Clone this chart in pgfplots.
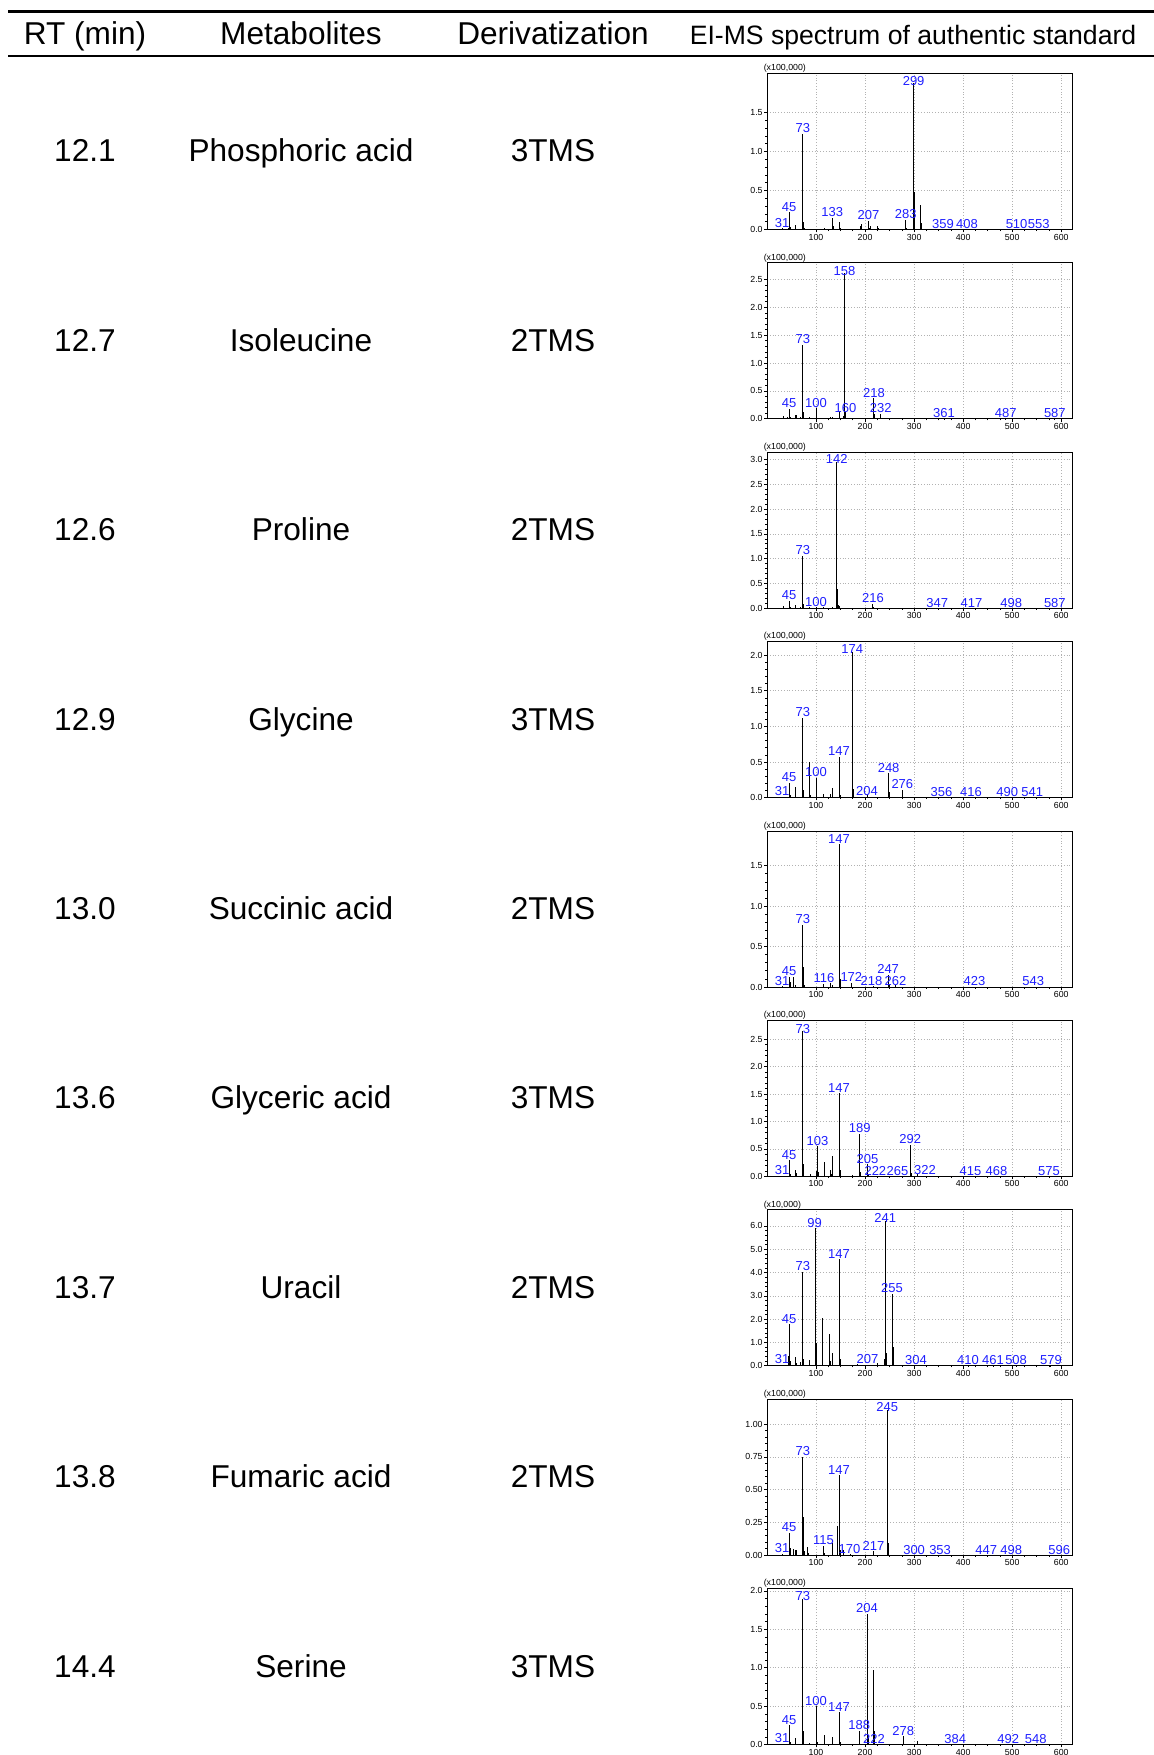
\documentclass[border=0pt]{standalone}
\usepackage{fontspec}
\setmainfont{Liberation Sans}
\usepackage{pgfplots}
\pgfplotsset{compat=1.18}
\definecolor{specblue}{RGB}{30,30,255}
\newcommand{\lbl}{\fontsize{6.5}{7}\selectfont}
\newcommand{\hdr}{\fontsize{15.8}{18}\selectfont}
\newcommand{\sml}{\fontsize{4.4}{5}\selectfont}
\pgfplotsset{
 spec/.style={
  scale only axis, width=152.5pt, height=78pt, anchor=north west,
  xmin=0, xmax=622, ymin=0,
  xtick={100,200,300,400,500,600}, minor x tick num=3, minor y tick num=4,
  xtick pos=bottom, ytick pos=left, tick align=outside,
  major tick length=1.4pt, minor tick length=0.8pt,
  every tick/.style={black, line width=0.35pt},
  grid=major, major grid style={densely dotted, black!30, line width=0.35pt},
  axis line style={line width=0.5pt},
  ticklabel style={font=\sml, inner sep=0.6pt},
  /pgf/number format/assume math mode=true,
  yticklabel style={/pgf/number format/fixed, /pgf/number format/fixed zerofill, /pgf/number format/precision=1},
  scaled ticks=false, clip=false,
  nodes near coords style={anchor=south, inner sep=0.3pt, text=specblue, font=\lbl},
 },
 bars/.style={ycomb, black, line width=0.5pt, mark=none},
 labs/.style={draw=none, mark=none, nodes near coords, point meta=explicit symbolic},
}
\begin{document}
\begin{tikzpicture}
\path[use as bounding box] (0,0) rectangle (577pt,-877.5pt);
\draw[line width=1.3pt] (4pt,-5.7pt) -- (577pt,-5.7pt);
\draw[line width=1.3pt] (4pt,-28pt) -- (577pt,-28pt);
\node[font=\hdr, anchor=base] at (42.5pt,-22.5pt) {RT (min)};
\node[font=\hdr, anchor=base] at (150.5pt,-22.5pt) {Metabolites};
\node[font=\hdr, anchor=base] at (276.5pt,-22.5pt) {Derivatization};
\node[font=\fontsize{13.3}{15}\selectfont, anchor=base] at (456.5pt,-22.5pt) {EI-MS spectrum of authentic standard};
% row texts
\foreach \yy/\rt/\met/\der in {75.25/12.1/Phosphoric acid/3TMS, 169.95/12.7/Isoleucine/2TMS, 264.65/12.6/Proline/2TMS, 359.35/12.9/Glycine/3TMS, 454.05/13.0/Succinic acid/2TMS, 548.75/13.6/Glyceric acid/3TMS, 643.45/13.7/Uracil/2TMS, 738.15/13.8/Fumaric acid/2TMS, 832.85/14.4/Serine/3TMS}{
 \node[font=\hdr, anchor=base] at (42.5pt,-\yy pt-5.65pt) {\rt};
 \node[font=\hdr, anchor=base] at (150.5pt,-\yy pt-5.65pt) {\met};
 \node[font=\hdr, anchor=base] at (276.5pt,-\yy pt-5.65pt) {\der};
}
% 1 Phosphoric acid
\begin{axis}[spec, at={(383.5pt,-36.8pt)}, ymax=2.0, ytick={0,0.5,1.0,1.5}]
\addplot[bars] coordinates {(31,0.02) (43,0.02) (45,0.22) (47,0.03) (59,0.06) (73,1.23) (74,0.10) (75,0.09) (77,0.02) (89,0.01) (103,0.01) (117,0.02) (119,0.01) (133,0.15) (134,0.03) (135,0.04) (147,0.10) (149,0.02) (163,0.01) (191,0.05) (193,0.07) (207,0.11) (209,0.02) (211,0.04) (225,0.05) (227,0.02) (241,0.01) (255,0.01) (269,0.01) (283,0.125) (284,0.02) (299,1.875) (300,0.48) (301,0.16) (314,0.32) (315,0.08) (316,0.03) (329,0.01) (359,0.005) (408,0.004) (510,0.003) (553,0.003)};
\addplot[labs] table[meta=l, row sep=\\] {x y l\\ 31 0.01 31\\ 45 0.22 45\\ 73 1.23 73\\ 133 0.15 133\\ 207 0.11 207\\ 283 0.125 283\\ 299 1.83 299\\ 359 0 359\\ 408 0 408\\ 509 0 510\\ 554 0 553\\};
\node[font=\sml, anchor=south west, inner sep=0.2pt, xshift=-2pt] at (rel axis cs:0,1) {(x100,000)};
\end{axis}
% 2 Isoleucine
\begin{axis}[spec, at={(383.5pt,-131.4pt)}, ymax=2.8, ytick={0,0.5,1.0,1.5,2.0,2.5}]
\addplot[bars] coordinates {(33,0.05) (41,0.03) (45,0.175) (47,0.04) (59,0.07) (61,0.07) (69,0.04) (73,1.33) (74,0.12) (75,0.10) (86,0.03) (89,0.02) (100,0.19) (101,0.04) (115,0.02) (130,0.03) (133,0.03) (147,0.13) (157,0.05) (158,2.61) (159,0.37) (160,0.12) (176,0.02) (190,0.01) (218,0.37) (219,0.08) (220,0.03) (232,0.09) (233,0.02) (260,0.015) (361,0.003) (487,0.003) (587,0.003)};
\addplot[labs] table[meta=l, row sep=\\] {x y l\\ 45 0.175 45\\ 73 1.33 73\\ 100 0.19 100\\ 160 0.1 160\\ 158 2.56 158\\ 218 0.37 218\\ 232 0.09 232\\ 361 0 361\\ 487 0 487\\ 587 0 587\\};
\node[font=\sml, anchor=south west, inner sep=0.2pt, xshift=-2pt] at (rel axis cs:0,1) {(x100,000)};
\end{axis}
% 3 Proline
\begin{axis}[spec, at={(383.5pt,-226.1pt)}, ymax=3.15, ytick={0,0.5,1.0,1.5,2.0,2.5,3.0}]
\addplot[bars] coordinates {(33,0.04) (45,0.15) (47,0.03) (59,0.07) (69,0.03) (73,1.06) (74,0.09) (75,0.08) (86,0.02) (100,0.03) (115,0.02) (133,0.02) (142,2.95) (143,0.38) (144,0.20) (145,0.06) (147,0.05) (174,0.01) (216,0.09) (217,0.02) (244,0.01) (347,0.003) (417,0.003) (498,0.003) (587,0.003)};
\addplot[labs] table[meta=l, row sep=\\] {x y l\\ 45 0.15 45\\ 73 1.06 73\\ 100 0.02 100\\ 142 2.9 142\\ 216 0.09 216\\ 347 0 347\\ 417 0 417\\ 498 0 498\\ 587 0 587\\};
\node[font=\sml, anchor=south west, inner sep=0.2pt, xshift=-2pt] at (rel axis cs:0,1) {(x100,000)};
\end{axis}
% 4 Glycine
\begin{axis}[spec, at={(383.5pt,-320.8pt)}, ymax=2.19, ytick={0,0.5,1.0,1.5,2.0}]
\addplot[bars] coordinates {(31,0.01) (45,0.21) (47,0.03) (59,0.15) (73,1.12) (74,0.10) (75,0.08) (86,0.50) (88,0.03) (100,0.28) (101,0.03) (116,0.05) (130,0.05) (133,0.13) (134,0.03) (147,0.575) (148,0.08) (149,0.04) (174,2.04) (175,0.36) (176,0.12) (190,0.01) (204,0.04) (205,0.01) (248,0.34) (249,0.08) (250,0.04) (276,0.11) (277,0.03) (356,0.003) (416,0.003) (490,0.003) (541,0.003)};
\addplot[labs] table[meta=l, row sep=\\] {x y l\\ 31 0.01 31\\ 45 0.21 45\\ 73 1.12 73\\ 100 0.28 100\\ 147 0.575 147\\ 174 2.01 174\\ 204 0.02 204\\ 248 0.34 248\\ 276 0.11 276\\ 356 0 356\\ 416 0 416\\ 490 0 490\\ 541 0 541\\};
\node[font=\sml, anchor=south west, inner sep=0.2pt, xshift=-2pt] at (rel axis cs:0,1) {(x100,000)};
\end{axis}
% 5 Succinic acid
\begin{axis}[spec, at={(383.5pt,-415.5pt)}, ymax=1.93, ytick={0,0.5,1.0,1.5}]
\addplot[bars] coordinates {(31,0.01) (45,0.13) (47,0.06) (55,0.13) (59,0.03) (73,0.77) (74,0.07) (75,0.25) (77,0.02) (116,0.04) (129,0.05) (130,0.03) (133,0.02) (147,1.77) (148,0.26) (149,0.10) (172,0.05) (173,0.01) (218,0.01) (247,0.15) (248,0.04) (249,0.02) (262,0.02) (423,0.003) (543,0.003)};
\addplot[labs] table[meta=l, row sep=\\] {x y l\\ 31 0.01 31\\ 45 0.13 45\\ 73 0.77 73\\ 116 0.04 116\\ 147 1.76 147\\ 172 0.05 172\\ 213 0.01 218\\ 247 0.15 247\\ 262 0.01 262\\ 423 0 423\\ 543 0 543\\};
\node[font=\sml, anchor=south west, inner sep=0.2pt, xshift=-2pt] at (rel axis cs:0,1) {(x100,000)};
\end{axis}
% 6 Glyceric acid
\begin{axis}[spec, at={(383.5pt,-510.2pt)}, ymax=2.84, ytick={0,0.5,1.0,1.5,2.0,2.5}]
\addplot[bars] coordinates {(31,0.01) (45,0.29) (47,0.04) (59,0.12) (61,0.06) (73,2.64) (74,0.22) (75,0.21) (89,0.04) (101,0.10) (102,0.45) (103,0.55) (104,0.08) (117,0.26) (118,0.04) (129,0.12) (131,0.05) (133,0.38) (134,0.08) (147,1.51) (148,0.23) (149,0.12) (175,0.03) (189,0.78) (190,0.08) (205,0.22) (206,0.05) (222,0.01) (265,0.01) (292,0.58) (293,0.16) (294,0.06) (307,0.04) (322,0.01) (415,0.003) (468,0.003) (575,0.003)};
\addplot[labs] table[meta=l, row sep=\\] {x y l\\ 31 0.01 31\\ 45 0.29 45\\ 73 2.59 73\\ 103 0.55 103\\ 147 1.51 147\\ 189 0.78 189\\ 205 0.22 205\\ 221 0 222\\ 266 0 265\\ 292 0.58 292\\ 322 0.01 322\\ 415 0 415\\ 468 0 468\\ 575 0 575\\};
\node[font=\sml, anchor=south west, inner sep=0.2pt, xshift=-2pt] at (rel axis cs:0,1) {(x100,000)};
\end{axis}
% 7 Uracil
\begin{axis}[spec, at={(383.5pt,-604.9pt)}, ymax=6.69, ytick={0,1,2,3,4,5,6}]
\addplot[bars] coordinates {(31,0.05) (44,0.40) (45,1.78) (47,0.20) (59,0.39) (61,0.10) (69,0.15) (73,4.04) (74,0.30) (75,0.31) (86,0.26) (99,5.90) (100,0.97) (101,0.30) (113,2.03) (114,0.30) (128,1.36) (129,0.20) (133,0.57) (134,0.10) (147,4.57) (148,0.79) (149,0.30) (169,0.05) (185,0.08) (207,0.05) (226,0.10) (240,0.30) (241,6.20) (242,1.40) (243,0.53) (255,3.10) (256,2.76) (257,0.79) (258,0.20) (270,0.03) (304,0.02) (410,0.01) (461,0.01) (508,0.01) (579,0.01)};
\addplot[labs] table[meta=l, row sep=\\] {x y l\\ 31 0.05 31\\ 45 1.78 45\\ 73 4.04 73\\ 97 5.9 99\\ 147 4.57 147\\ 205 0.05 207\\ 241 6.12 241\\ 255 3.1 255\\ 304 0 304\\ 410 0 410\\ 461 0 461\\ 508 0 508\\ 579 0 579\\};
\node[font=\sml, anchor=south west, inner sep=0.2pt, xshift=-2pt] at (rel axis cs:0,1) {(x10,000)};
\end{axis}
% 8 Fumaric acid
\begin{axis}[spec, at={(383.5pt,-699.6pt)}, ymax=1.19, ytick={0,0.25,0.5,0.75,1.0}, yticklabel style={/pgf/number format/precision=2}]
\addplot[bars] coordinates {(31,0.01) (45,0.17) (47,0.053) (55,0.046) (59,0.04) (61,0.04) (73,0.75) (74,0.07) (75,0.29) (77,0.03) (83,0.06) (85,0.02) (115,0.07) (117,0.02) (133,0.097) (143,0.22) (144,0.03) (147,0.61) (148,0.094) (149,0.04) (155,0.04) (170,0.01) (217,0.03) (218,0.01) (245,1.107) (246,0.21) (247,0.09) (300,0.005) (353,0.003) (447,0.003) (498,0.003) (596,0.003)};
\addplot[labs] table[meta=l, row sep=\\] {x y l\\ 31 0.01 31\\ 45 0.17 45\\ 73 0.75 73\\ 115 0.07 115\\ 147 0.61 147\\ 168 0.005 170\\ 217 0.03 217\\ 245 1.085 245\\ 300 0 300\\ 353 0 353\\ 447 0 447\\ 498 0 498\\ 596 0 596\\};
\node[font=\sml, anchor=south west, inner sep=0.2pt, xshift=-2pt] at (rel axis cs:0,1) {(x100,000)};
\end{axis}
% 9 Serine
\begin{axis}[spec, at={(383.5pt,-794.3pt)}, ymax=2.03, ytick={0,0.5,1.0,1.5,2.0}]
\addplot[bars] coordinates {(31,0.01) (45,0.25) (47,0.04) (59,0.09) (73,1.89) (74,0.18) (75,0.17) (86,0.02) (100,0.50) (101,0.07) (102,0.04) (117,0.13) (118,0.03) (133,0.10) (134,0.03) (147,0.42) (148,0.07) (149,0.04) (188,0.18) (189,0.03) (204,1.70) (205,0.33) (206,0.13) (218,0.97) (219,0.18) (220,0.08) (222,0.01) (278,0.11) (279,0.03) (306,0.05) (307,0.02) (384,0.003) (492,0.003) (548,0.003)};
\addplot[labs] table[meta=l, row sep=\\] {x y l\\ 31 0.01 31\\ 45 0.25 45\\ 73 1.86 73\\ 100 0.5 100\\ 147 0.42 147\\ 188 0.18 188\\ 204 1.70 204\\ 218 0 222\\ 278 0.11 278\\ 384 0 384\\ 492 0 492\\ 548 0 548\\};
\node[font=\sml, anchor=south west, inner sep=0.2pt, xshift=-2pt] at (rel axis cs:0,1) {(x100,000)};
\end{axis}
\end{tikzpicture}
\end{document}
